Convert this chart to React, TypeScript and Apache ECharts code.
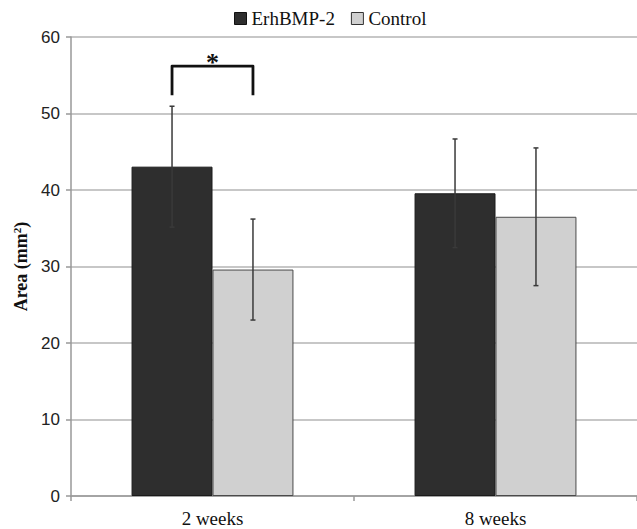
import React, { useEffect, useRef } from "react";
import * as echarts from "echarts";

const categories = ["2 weeks", "8 weeks"];
const seriesNames = ["ErhBMP-2", "Control"];
const erhMeans = [43.05, 39.57];
const erhErr = [7.9, 7.1];
const ctrlMeans = [29.6, 36.5];
const ctrlErr = [6.6, 9.0];
const yTicks = { min: 0, max: 60, interval: 10 };
const sigBracket = { category: 0, low: 52.4, high: 56.2, label: "*" };

const BAR_FRAC = 0.286;

export default function App() {
  const ref = useRef<HTMLDivElement>(null);
  useEffect(() => {
    if (!ref.current) return;
    const chart = echarts.init(ref.current, null, { renderer: "svg" });

    const errSeries = (means: number[], errs: number[], sign: number, name: string) => ({
      type: "custom",
      name: name + "-err",
      z: 5,
      silent: true,
      data: means.map((m, i) => [i, m - errs[i], m + errs[i]]),
      encode: { x: 0, y: [1, 2] },
      renderItem: (params: any, api: any) => {
        const cat = api.value(0);
        const lo = api.coord([cat, api.value(1)]);
        const hi = api.coord([cat, api.value(2)]);
        const bw = api.size([1, 0])[0] * BAR_FRAC;
        const x = lo[0] + sign * bw / 2;
        const st = { stroke: "#3a3a3a", lineWidth: 1.5 };
        return {
          type: "group",
          children: [
            { type: "line", shape: { x1: x, y1: lo[1], x2: x, y2: hi[1] }, style: st },
            { type: "line", shape: { x1: x - 2.5, y1: lo[1], x2: x + 2.5, y2: lo[1] }, style: st },
            { type: "line", shape: { x1: x - 2.5, y1: hi[1], x2: x + 2.5, y2: hi[1] }, style: st },
          ],
        };
      },
    });

    chart.setOption({
      animation: false,
      textStyle: { fontFamily: "Liberation Serif" },
      legend: {
        top: 4,
        left: 229,
        itemWidth: 12,
        itemHeight: 12,
        itemGap: 16,
        textStyle: { fontFamily: "Liberation Serif", fontSize: 19, color: "#111" },
        data: [
          { name: seriesNames[0], icon: "rect", itemStyle: { color: "#2e2e2e", borderColor: "#111", borderWidth: 1 } },
          { name: seriesNames[1], icon: "rect", itemStyle: { color: "#d0d0d0", borderColor: "#333", borderWidth: 1 } },
        ],
      },
      grid: { left: 71, top: 37, width: 570, bottom: 33 },
      xAxis: {
        type: "category",
        data: categories,
        axisLine: { lineStyle: { color: "#999", width: 1.5 } },
        axisTick: { show: true, length: 5, lineStyle: { color: "#999", width: 1.5 } },
        axisLabel: { fontFamily: "Liberation Serif", fontSize: 19, color: "#111", margin: 13 },
      },
      yAxis: {
        type: "value",
        min: yTicks.min,
        max: yTicks.max,
        interval: yTicks.interval,
        name: "{a|Area (mm}{s|2}{a|)}",
        nameLocation: "middle",
        nameGap: 37,
        nameRotate: 90,
        nameTextStyle: {
          color: "#111",
          fontFamily: "Liberation Serif",
          fontWeight: "bold",
          fontSize: 18,
          rich: {
            a: { fontFamily: "Liberation Serif", fontWeight: "bold", fontSize: 18, color: "#111", lineHeight: 20 },
            s: { fontFamily: "Liberation Serif", fontWeight: "bold", fontSize: 11, color: "#111", verticalAlign: "top", lineHeight: 20 },
          },
        },
        axisLine: { show: true, lineStyle: { color: "#999", width: 1.5 } },
        axisTick: { show: true, length: 5, lineStyle: { color: "#999", width: 1.5 } },
        axisLabel: { fontFamily: "Liberation Sans", fontSize: 17, color: "#222", margin: 11 },
        splitLine: { lineStyle: { color: "#b4b4b4", width: 1.5 } },
      },
      series: [
        {
          type: "bar",
          name: seriesNames[0],
          data: erhMeans,
          barWidth: BAR_FRAC * 100 + "%",
          barGap: "0%",
          itemStyle: { color: "#2e2e2e", borderColor: "#1a1a1a", borderWidth: 1 },
        },
        {
          type: "bar",
          name: seriesNames[1],
          data: ctrlMeans,
          barWidth: BAR_FRAC * 100 + "%",
          barGap: "0%",
          itemStyle: { color: "#d0d0d0", borderColor: "#4a4a4a", borderWidth: 1 },
        },
        errSeries(erhMeans, erhErr, -1, seriesNames[0]),
        errSeries(ctrlMeans, ctrlErr, 1, seriesNames[1]),
        {
          type: "custom",
          name: "sig",
          z: 6,
          silent: true,
          data: [[sigBracket.category, sigBracket.low, sigBracket.high]],
          encode: { x: 0, y: [1, 2] },
          renderItem: (params: any, api: any) => {
            const cat = api.value(0);
            const lo = api.coord([cat, api.value(1)]);
            const hi = api.coord([cat, api.value(2)]);
            const bw = api.size([1, 0])[0] * BAR_FRAC;
            const x1 = lo[0] - bw / 2;
            const x2 = lo[0] + bw / 2;
            return {
              type: "group",
              children: [
                {
                  type: "polyline",
                  shape: { points: [[x1, lo[1]], [x1, hi[1]], [x2, hi[1]], [x2, lo[1]]] },
                  style: { stroke: "#111", lineWidth: 2.8, fill: null, lineJoin: "round" },
                },
                {
                  type: "text",
                  x: lo[0],
                  y: hi[1] - 4,
                  style: {
                    text: sigBracket.label,
                    fontFamily: "Liberation Serif",
                    fontWeight: "bold",
                    fontSize: 26,
                    fill: "#111",
                    align: "center",
                    verticalAlign: "middle",
                  },
                },
              ],
            };
          },
        },
      ],
    });
    return () => chart.dispose();
  }, []);
  return <div ref={ref} style={{ position: "absolute", left: 0, top: 0, width: 637, height: 529 }} />;
}
